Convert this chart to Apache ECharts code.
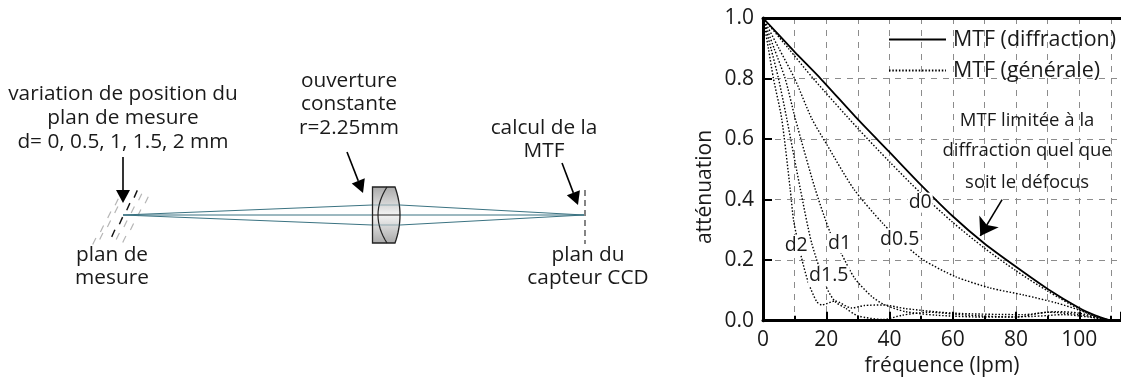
<!DOCTYPE html>
<html>
<head>
<meta charset="utf-8">
<title>MTF</title>
<script src="https://cdn.jsdelivr.net/npm/echarts@6/dist/echarts.min.js"></script>
<style>
  html, body { margin: 0; padding: 0; background: #fff; }
  #chart { width: 1121px; height: 378px; }
</style>
</head>
<body>
<div id="chart"></div>
<script>
// courbes : [fréquence, atténuation]
const mtfDiffraction = [[0,1],[10,0.888],[18.2,0.8],[30,0.665],[40,0.557],[50,0.448],[60,0.345],[70,0.255],[80,0.178],[90,0.105],[100,0.042],[105,0.018],[110,0]]
const mtfD0 = [[0,1],[8,0.9],[15.9,0.8],[30,0.635],[40,0.525],[50,0.42],[60,0.325],[70,0.24],[80,0.165],[90,0.098],[100,0.038],[105,0.015],[110,0]]
const mtfD05 = [[0,1],[5,0.9],[10,0.8],[15.4,0.668],[20,0.585],[28.7,0.435],[38,0.32],[45.5,0.245],[50.8,0.2],[61,0.145],[71.9,0.108],[82.4,0.085],[93,0.058],[100,0.035],[105,0.015],[110,0]]
const mtfD1 = [[0,1],[3.5,0.9],[7,0.8],[10.2,0.668],[16.5,0.435],[21.3,0.29],[24.7,0.223],[29,0.14],[34.4,0.08],[38.6,0.052],[45,0.03],[55,0.018],[70,0.012],[85,0.014],[95,0.02],[103,0.012],[110,0]]
const mtfD15 = [[0,1],[2.5,0.9],[4.9,0.8],[7.5,0.668],[11.8,0.435],[15.4,0.256],[20,0.112],[22.8,0.063],[26,0.042],[30,0.016],[38,0.004],[44,0.018],[52,0.028],[65,0.018],[80,0.012],[90,0.028],[100,0.02],[110,0]]
const mtfD2 = [[0,1],[1.7,0.9],[3.3,0.8],[5.9,0.668],[8.6,0.435],[9.7,0.33],[12.2,0.207],[14.4,0.124],[17,0.063],[18.6,0.052],[22.8,0.065],[28,0.042],[32,0.05],[38,0.052],[45,0.04],[60,0.025],[82,0.02],[93,0.03],[100,0.025],[110,0]]

const generalCurves = [
  ['MTF (générale)', mtfD0],
  ['d0.5', mtfD05],
  ['d1', mtfD1],
  ['d1.5', mtfD15],
  ['d2', mtfD2]
]

// étiquettes placées dans le repère du graphique
const curveLabels = [[49.7,0.39,'d0'],[43.2,0.27,'d0.5'],[24.2,0.256,'d1'],[10.5,0.25,'d2'],[20.8,0.148,'d1.5']]
const noteLabels = [[83.5,0.66,'MTF limitée à la'],[83.5,0.56,'diffraction quel que'],[83.5,0.455,'soit le défocus']]
const noteArrow = [[75.6,0.4],[68.7,0.28]]

const xTicks = { min: 0, max: 113.2, interval: 20 }
const yTicks = { min: 0, max: 1, interval: 0.2 }

// textes du schéma de gauche : [centre x, centre y, texte]
const diagramTexts = [
  [123,94,'variation de position du'],[123,118,'plan de mesure'],[123,142,'d= 0, 0.5, 1, 1.5, 2 mm'],
  [112,255,'plan de'],[112,278,'mesure'],
  [349,81,'ouverture'],[349,104,'constante'],[349,128,'r=2.25mm'],
  [544,128,'calcul de la'],[544,151,'MTF'],
  [588,255,'plan du'],[588,278,'capteur CCD']
]
const diagramArrows = [[123,157,123,203],[347,152,363,193],[562,163,578,205]]
const planeCentres = [[135.7,194],[128.3,206.7],[121,220.7],[113.3,233.3]]
const planeOffsets = [[-19,8],[-12,3],[4.5,3],[11,6]]
const rays = [
  [[123,215],[372,205],[400,205],[584,215]],
  [[123,215],[584,215]],
  [[123,215],[372,225],[400,225],[584,215]]
]

const fontFamily = '"Open Sans", "Noto Sans", sans-serif'
const ink = '#1a1a1a'
const teal = '#3b7382'

// courbe quadratique échantillonnée pour remplir la lentille
const quad = (x0, y0, cx, cy, x1, y1) => {
  const pts = []
  for (let i = 0; i <= 16; i++) {
    const t = i / 16
    pts.push([
      (1 - t) * (1 - t) * x0 + 2 * t * (1 - t) * cx + t * t * x1,
      (1 - t) * (1 - t) * y0 + 2 * t * (1 - t) * cy + t * t * y1
    ])
  }
  return pts
}

const arrowGraphic = ([x0, y0, x1, y1]) => {
  const len = Math.hypot(x1 - x0, y1 - y0)
  const ux = (x1 - x0) / len, uy = (y1 - y0) / len
  const bx = x1 - ux * 13, by = y1 - uy * 13
  return [
    { type: 'line', shape: { x1: x0, y1: y0, x2: bx, y2: by }, style: { stroke: '#000', lineWidth: 1.6 } },
    { type: 'polygon', shape: { points: [[x1, y1], [bx - uy * 7, by + ux * 7], [bx + uy * 7, by - ux * 7]] }, style: { fill: '#000' } }
  ]
}

const buildDiagram = () => {
  const els = []
  planeCentres.forEach(([cx, cy]) => {
    planeOffsets.forEach(([dx, dy]) => {
      els.push({ type: 'line', shape: { x1: cx + dx - 1.6, y1: cy + dy + 3.2, x2: cx + dx + 1.6, y2: cy + dy - 3.2 }, style: { stroke: '#b5b5b5', lineWidth: 1.2 } })
    })
    els.push({ type: 'line', shape: { x1: cx - 1.6, y1: cy + 3.6, x2: cx + 1.6, y2: cy - 3.6 }, style: { stroke: '#111', lineWidth: 1.4 } })
  })
  rays.forEach(r => {
    els.push({ type: 'polyline', shape: { points: r }, style: { stroke: teal, lineWidth: 1, fill: null } })
  })
  const lensRight = quad(395, 187, 405, 215, 395, 243)
  els.push({
    type: 'polygon',
    shape: { points: [[372.5, 187]].concat(lensRight, [[372.5, 243]]) },
    style: {
      fill: new echarts.graphic.LinearGradient(0, 0, 0, 1, [
        { offset: 0, color: '#a8a8a8' }, { offset: 0.5, color: '#f4f4f4' }, { offset: 1, color: '#a8a8a8' }
      ]),
      stroke: '#222', lineWidth: 1.3
    }
  })
  els.push({ type: 'polyline', shape: { points: quad(387, 187, 369, 215, 387, 243) }, style: { stroke: '#222', lineWidth: 1.2, fill: null } })
  els.push({ type: 'line', shape: { x1: 373, y1: 215, x2: 400, y2: 215 }, style: { stroke: '#222', lineWidth: 1 } })
  rays.forEach(r => {
    if (r.length > 2) els.push({ type: 'line', shape: { x1: 373, y1: r[1][1], x2: 400, y2: r[1][1] }, style: { stroke: teal, lineWidth: 0.8, opacity: 0.6 } })
  })
  // plan du capteur
  els.push({ type: 'line', shape: { x1: 585, y1: 190, x2: 585, y2: 244 }, style: { stroke: '#222', lineWidth: 1.1, lineDash: [6, 4] } })
  diagramArrows.forEach(a => els.push(...arrowGraphic(a)))
  diagramTexts.forEach(([x, y, text]) => {
    els.push({ type: 'text', x, y, style: { text, fill: ink, font: '20.8px ' + fontFamily, textAlign: 'center', textVerticalAlign: 'middle' } })
  })
  // titre de l'axe y, un peu plus bas que le milieu du tracé
  els.push({ type: 'text', x: 705, y: 187, rotation: Math.PI / 2, style: { text: 'atténuation', fill: ink, font: '21px ' + fontFamily, textAlign: 'center', textVerticalAlign: 'middle' } })
  return els
}

const dashed = { lineStyle: { color: '#8c8c8c', type: [6, 6], width: 1 } }
const axisLine = { show: true, onZero: false, lineStyle: { color: '#000', width: 3 } }

const chart = echarts.init(document.getElementById('chart'), null, { renderer: 'canvas' })
chart.setOption({
  animation: false,
  backgroundColor: '#fff',
  textStyle: { fontFamily },
  graphic: { elements: buildDiagram() },
  grid: { left: 763, top: 18, right: 0, bottom: 57.3, containLabel: false, outerBoundsMode: 'none' },
  legend: {
    left: 883,
    top: 24,
    orient: 'vertical',
    itemWidth: 57,
    itemHeight: 14,
    itemGap: 10,
    itemStyle: { opacity: 0 },
    data: ['MTF (diffraction)', 'MTF (générale)'],
    textStyle: { fontSize: 21.4, color: ink, fontFamily, padding: [0, 0, 0, 2] },
    selectedMode: false
  },
  xAxis: [
    {
      type: 'value', ...xTicks,
      name: 'fréquence (lpm)', nameLocation: 'middle', nameGap: 31,
      nameTextStyle: { fontSize: 21, color: ink, fontFamily },
      axisLine,
      axisTick: { show: true, inside: true, length: 9, lineStyle: { color: '#000', width: 2 } },
      minorTick: { show: true, splitNumber: 2, length: 5, lineStyle: { color: '#000', width: 2 } },
      axisLabel: { fontSize: 21, color: ink, margin: 9, showMaxLabel: false, fontFamily },
      splitLine: { show: true, ...dashed },
      minorSplitLine: { show: true, ...dashed }
    },
    {
      type: 'value', ...xTicks, position: 'top',
      axisLine, axisTick: { show: false }, axisLabel: { show: false }, splitLine: { show: false }
    }
  ],
  yAxis: {
    type: 'value', ...yTicks,
    axisLine,
    axisTick: { show: true, inside: true, length: 9, lineStyle: { color: '#000', width: 2 } },
    axisLabel: { fontSize: 21, color: ink, margin: 9, formatter: v => v.toFixed(1), fontFamily },
    splitLine: { show: true, ...dashed }
  },
  series: [
    {
      name: 'MTF (diffraction)', type: 'line', data: mtfDiffraction, smooth: 0.2, symbol: 'none',
      lineStyle: { color: '#000', width: 1.8 }, itemStyle: { color: '#000' },
      markLine: {
        silent: true, symbol: ['none', 'arrow'], symbolSize: 17,
        label: { show: false },
        lineStyle: { color: '#000', width: 1.6, type: 'solid' },
        data: [[{ coord: noteArrow[0] }, { coord: noteArrow[1] }]]
      }
    },
    ...generalCurves.map(([name, data]) => ({
      name, type: 'line', data, smooth: 0.25, symbol: 'none',
      lineStyle: { color: '#000', width: 1.4, type: [1.5, 1.8] }, itemStyle: { color: '#000' }
    })),
    {
      name: 'labels', type: 'scatter', symbolSize: 0, silent: true, z: 5, itemStyle: { opacity: 1 },
      data: curveLabels.map(([x, y, text]) => ({
        value: [x, y],
        label: { show: true, position: 'inside', formatter: text, fontSize: 19.5, color: ink, backgroundColor: '#fff', padding: [0, 1], fontFamily }
      }))
    },
    {
      name: 'note', type: 'scatter', symbolSize: 0, silent: true, z: 5, itemStyle: { opacity: 1 },
      data: noteLabels.map(([x, y, text]) => ({
        value: [x, y],
        label: { show: true, position: 'inside', formatter: text, fontSize: 18.5, color: ink, fontFamily }
      }))
    }
  ]
})
</script>
</body>
</html>
